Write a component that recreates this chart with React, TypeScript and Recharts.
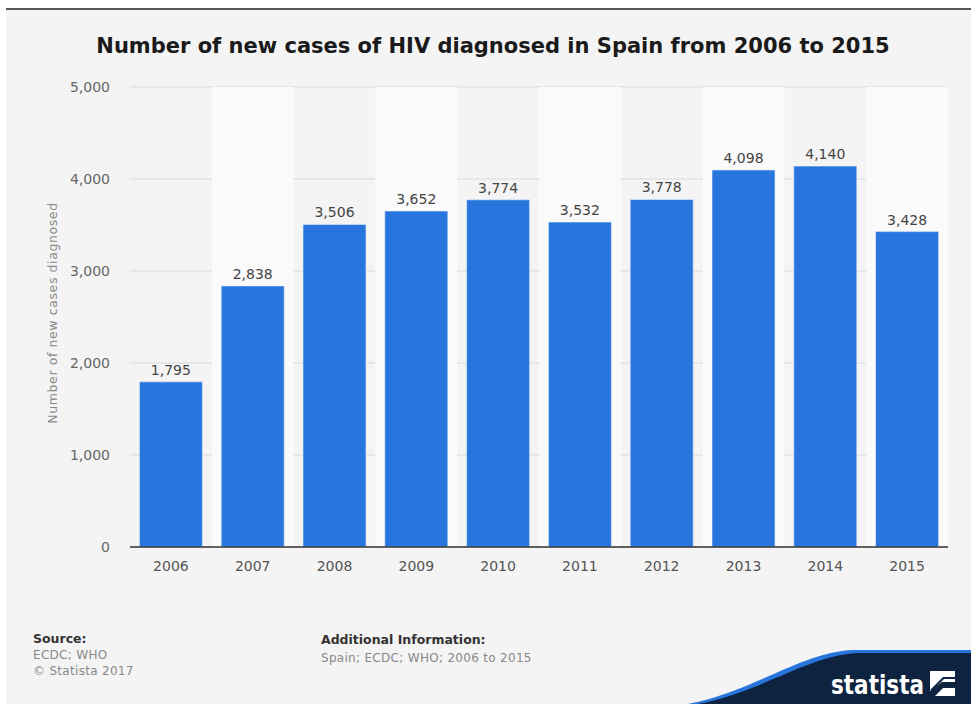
import { BarChart, Bar, XAxis, YAxis, CartesianGrid, LabelList, ReferenceArea } from "recharts";

const YEARS = ["2006", "2007", "2008", "2009", "2010", "2011", "2012", "2013", "2014", "2015"];
const NEW_CASES = [1795, 2838, 3506, 3652, 3774, 3532, 3778, 4098, 4140, 3428];
const Y_TICKS = [0, 1000, 2000, 3000, 4000, 5000];
const LIGHT_BANDS = ["2007", "2009", "2011", "2013", "2015"];

const data = YEARS.map((year, i) => ({ year, cases: NEW_CASES[i] }));

const fmt = (v: number) => v.toLocaleString("en-US");
const FONT = "'DejaVu Sans', sans-serif";

export default function App() {
  return (
    <div style={{ position: "absolute", left: 0, top: 0, width: 971, height: 704, background: "#fff", overflow: "hidden", fontFamily: FONT }}>
      <div style={{ position: "absolute", left: 6, top: 8, right: 0, height: 2, background: "#555" }} />
      <div style={{ position: "absolute", left: 6, top: 10, right: 0, bottom: 0, background: "#f4f4f4" }} />

      <div style={{ position: "absolute", left: 0, top: 34, width: 986, textAlign: "center", fontSize: 21, fontWeight: "bold", color: "#1a1a1a" }}>
        Number of new cases of HIV diagnosed in Spain from 2006 to 2015
      </div>

      <div style={{ position: "absolute", left: 0, top: 0 }}>
        <BarChart width={971} height={600} data={data} margin={{ top: 87, right: 23, left: 0, bottom: 23 }} barCategoryGap="11.5%">
          {LIGHT_BANDS.map((y) => (
            <ReferenceArea key={y} x1={y} x2={y} fill="#fafafa" fillOpacity={1} stroke="none" />
          ))}
          <CartesianGrid vertical={false} stroke="#d9d9d9" />
          <XAxis
            dataKey="year"
            axisLine={{ stroke: "#333", strokeWidth: 1.5 }}
            tickLine={false}
            tick={{ fill: "#555", fontSize: 14, fontFamily: FONT }}
            tickMargin={8}
            height={30}
          />
          <YAxis
            domain={[0, 5000]}
            ticks={Y_TICKS}
            tickFormatter={fmt}
            axisLine={false}
            tickLine={false}
            tick={{ fill: "#666", fontSize: 14, fontFamily: FONT }}
            tickMargin={14}
            width={130}
            label={{
              content: () => (
                <text x={53} y={313} transform="rotate(-90 53 313)" textAnchor="middle" dominantBaseline="middle" fontSize={12.5} letterSpacing={0.6} fill="#888" fontFamily={FONT}>
                  Number of new cases diagnosed
                </text>
              ),
            }}
          />
          <Bar dataKey="cases" fill="#2876dd" stroke="#e8eef8" strokeWidth={0.6} isAnimationActive={false}>
            <LabelList dataKey="cases" position="top" offset={7} formatter={(v: any) => fmt(Number(v))} style={{ fill: "#444", fontSize: 14, fontFamily: FONT }} />
          </Bar>
        </BarChart>
      </div>

      <div style={{ position: "absolute", left: 33, top: 631, fontSize: 12.5, fontWeight: "bold", color: "#333" }}>Source:</div>
      <div style={{ position: "absolute", left: 33, top: 647, fontSize: 12, color: "#888", lineHeight: "16px", letterSpacing: 0.3 }}>
        ECDC; WHO
        <br />© Statista 2017
      </div>
      <div style={{ position: "absolute", left: 321, top: 632, fontSize: 12.5, fontWeight: "bold", color: "#333" }}>Additional Information:</div>
      <div style={{ position: "absolute", left: 321, top: 651, fontSize: 12, color: "#888", letterSpacing: 0.3 }}>Spain; ECDC; WHO; 2006 to 2015</div>

      <svg style={{ position: "absolute", left: 0, top: 0 }} width={971} height={704}>
        <path d="M 688 704 C 752 692, 802 652, 853 650 L 971 650 L 971 704 Z" fill="#2876dd" />
        <path d="M 698 704 C 762 692, 810 654, 860 653 L 971 653 L 971 704 Z" fill="#0e2340" />
        <text x={831} y={694} fill="#fff" fontSize={27} fontWeight="bold" fontFamily="'DejaVu Sans Condensed', 'DejaVu Sans', sans-serif" textLength={93} lengthAdjust="spacingAndGlyphs">
          statista
        </text>
        <rect x={930} y={671} width={25} height={25} fill="#fff" />
        <path d="M 930 690 L 943 677 L 955 677 L 955 679 L 944 679 L 933 690 Z" fill="#0e2340" />
        <path d="M 930 696 L 930 691 L 942 682 L 955 682 L 955 688 L 943 688 L 935 696 Z" fill="#0e2340" />
      </svg>
    </div>
  );
}
